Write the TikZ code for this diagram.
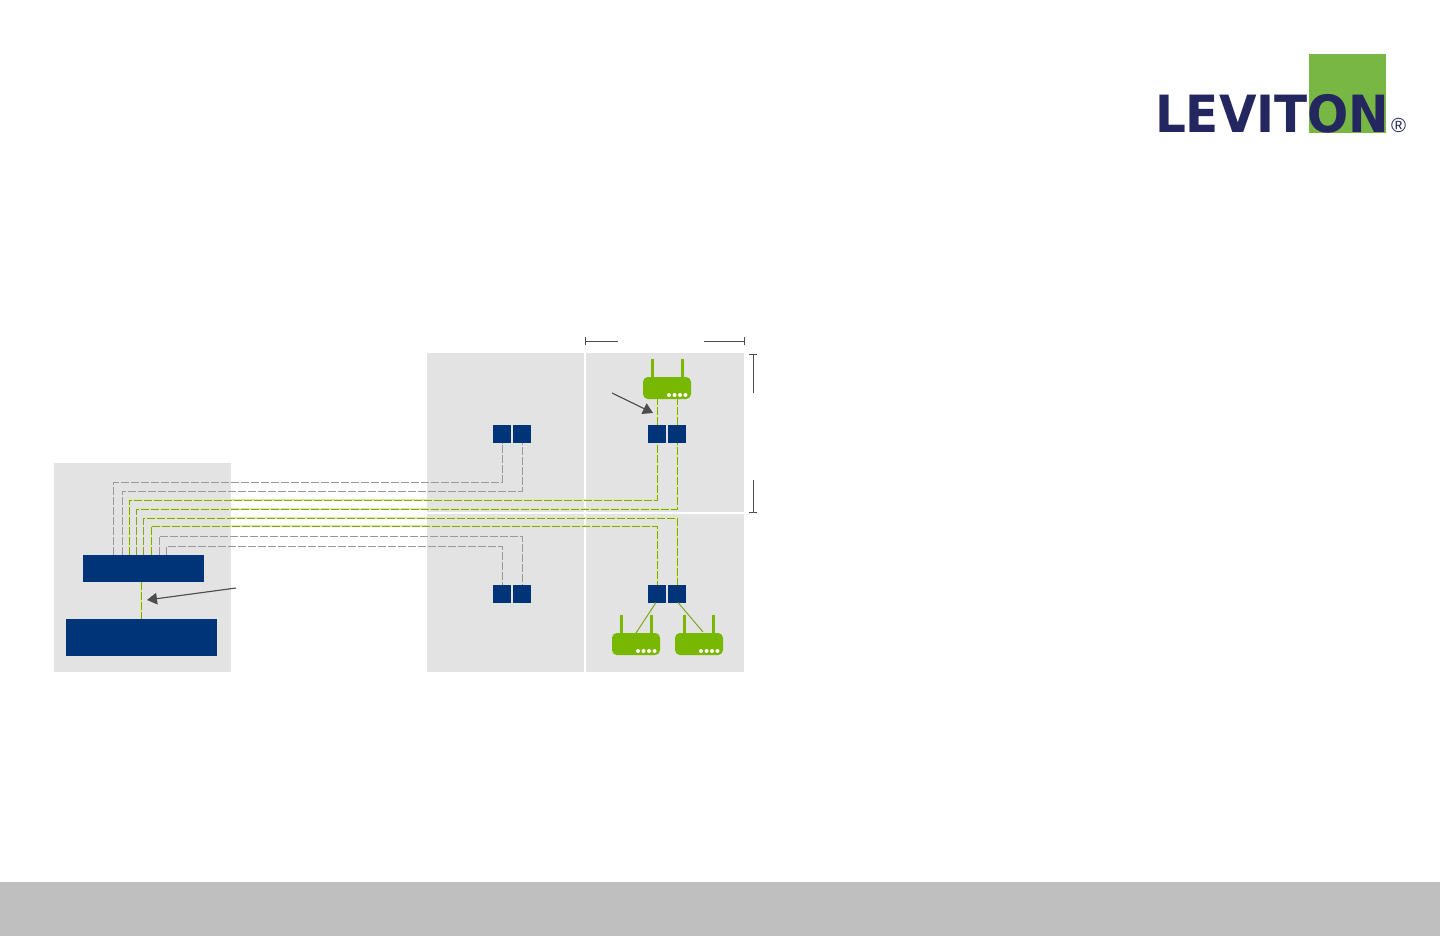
\documentclass[tikz,border=0pt]{standalone}
\usepackage{fontspec}
\usetikzlibrary{positioning,arrows.meta,calc}
\newfontfamily\logofont{DejaVu Sans Bold}
\setmainfont{Liberation Sans}
\definecolor{panelgray}{HTML}{E3E3E3}
\definecolor{footgray}{HTML}{BFBFBF}
\definecolor{portblue}{HTML}{003478}
\definecolor{wifigreen}{HTML}{78B800}
\definecolor{cablegreen}{HTML}{7FA61E}
\definecolor{cablehalo}{HTML}{DDEE9A}
\definecolor{cablegray}{HTML}{999999}
\definecolor{notegray}{HTML}{4D4D4D}
\definecolor{logogreen}{HTML}{78B744}
\definecolor{logonavy}{HTML}{23265F}

\begin{document}
\begin{tikzpicture}[
    x=0.25mm,y=-0.25mm,
    every node/.style={inner sep=0pt,outer sep=0pt},
    panel/.style={fill=panelgray,anchor=north west},
    rack/.style={fill=portblue,anchor=north west},
    port/.style={fill=portblue,minimum width=4.5mm,minimum height=4.5mm},
    router/.style={fill=wifigreen,rounded corners=1.2mm,minimum width=12mm,minimum height=5.5mm},
    antenna/.style={draw=wifigreen,line width=0.75mm},
    greycable/.style={draw=cablegray,line width=0.22mm,dash pattern=on 2mm off 0.5mm},
    greencable/.style={draw=cablegreen,line width=0.22mm,dash pattern=on 2mm off 0.5mm,
        preaction={draw=cablehalo,solid,line width=0.4mm}},
    droplink/.style={draw=cablegreen,line width=0.25mm},
    note/.style={-{Triangle[length=2.5mm,width=2.9mm]},draw=notegray,fill=notegray,line width=0.28mm},
    dimension/.style={draw=notegray,line width=0.25mm},
]
\useasboundingbox (0,0) rectangle (1440,936);
\fill[white] (0,0) rectangle (1440,936);

% Footer band
\node[fill=footgray,anchor=north west,minimum width=360mm,minimum height=13.5mm] (footer) at (0,882) {};

% Logo
\node[fill=logogreen,anchor=north west,minimum width=19.25mm,minimum height=19.75mm] (logobox) at (1309,54) {};
\node[font=\logofont\fontsize{36.5}{36.5}\selectfont,text=logonavy,xscale=0.945,anchor=base west] (logo) at (1155,133) {LEVITON};
\node[font=\fontsize{14.5}{14.5}\selectfont,text=logonavy,anchor=base west] (logoreg) at (1391,133) {®};

% Panels
\node[panel,minimum width=44.25mm,minimum height=52.25mm] (equip) at (54,463) {};
\node[panel,minimum width=39.25mm,minimum height=39.75mm] (zoneTL) at (427,353) {};
\node[panel,minimum width=39.5mm,minimum height=39.75mm] (zoneTR) at (585.5,353) {};
\node[panel,minimum width=39.25mm,minimum height=39.5mm] (zoneBL) at (427,514) {};
\node[panel,minimum width=39.5mm,minimum height=39.5mm] (zoneBR) at (585.5,514) {};

% Racks
\node[rack,minimum width=30.25mm,minimum height=6.75mm] (switch) at (83,555) {};
\node[rack,minimum width=37.75mm,minimum height=9.25mm] (core) at (66,619) {};

% Outlets
\node[port] (tlA) at (502,434) {};
\node[port] (tlB) at (522,434) {};
\node[port] (trA) at (657,434) {};
\node[port] (trB) at (677,434) {};
\node[port] (blA) at (502,593.5) {};
\node[port] (blB) at (522,593.5) {};
\node[port] (brA) at (657,593.5) {};
\node[port] (brB) at (677,593.5) {};

% Routers
\draw[antenna] (652,359) -- (652,378);
\draw[antenna] (682,359) -- (682,378);
\draw[antenna] (621,615) -- (621,634);
\draw[antenna] (651,615) -- (651,634);
\draw[antenna] (684,615) -- (684,634);
\draw[antenna] (713,615) -- (713,634);
\node[router] (apTop) at (667,388) {};
\node[router] (apLeft) at (636,644) {};
\node[router] (apRight) at (699,644) {};
\fill[white] (669,395) circle (2) (674.5,395) circle (2) (680,395) circle (2) (685.5,395) circle (2);
\fill[white] (638,651) circle (2) (643.5,651) circle (2) (649,651) circle (2) (654.5,651) circle (2);
\fill[white] (701,651) circle (2) (706.5,651) circle (2) (712,651) circle (2) (717.5,651) circle (2);

% Horizontal runs, from the switch out to the outlets
\coordinate (swA) at (113.5,555);
\coordinate (swB) at (122,555);
\coordinate (swC) at (129,555);
\coordinate (swD) at (136.5,555);
\coordinate (swE) at (143.5,555);
\coordinate (swF) at (151,555);
\coordinate (swG) at (159,555);
\coordinate (swH) at (166.5,555);
\draw[greycable] (swA) -- ++(0,-72.5) -| (tlA.south);
\draw[greycable] (swB) -- ++(0,-64) -| (tlB.south);
\draw[greencable] (swC) -- ++(0,-55) -| (trA.south);
\draw[greencable] (swD) -- ++(0,-46) -| (trB.south);
\draw[greencable] (swE) -- ++(0,-37) -| (brB.north);
\draw[greencable] (swF) -- ++(0,-29) -| (brA.north);
\draw[greycable] (swG) -- ++(0,-19) -| (blB.north);
\draw[greycable] (swH) -- ++(0,-9) -| (blA.north);

% Short links
\coordinate (swDown) at (141,582);
\coordinate (coreUp) at (141,619);
\draw[greencable] (swDown) -- (coreUp);
\draw[greencable] (trA.north) -- (trA.north |- apTop.south);
\draw[greencable] (trB.north) -- (trB.north |- apTop.south);
\coordinate (apLeftTop) at (636,633);
\coordinate (apRightTop) at (703,632);
\draw[droplink] (brA.south) ++(-1,0) -- (apLeftTop);
\draw[droplink] (brB.south) ++(1,0) -- (apRightTop);

% Pointers
\coordinate (noteCore) at (236,588);
\coordinate (noteCoreEnd) at (147,600);
\coordinate (noteAp) at (612,393);
\coordinate (noteApEnd) at (653,413);
\draw[note] (noteCore) -- (noteCoreEnd);
\draw[note] (noteAp) -- (noteApEnd);

% Dimension marks
\draw[dimension] (585,337) -- (585,345);
\draw[dimension] (585,341) -- (618,341);
\draw[dimension] (704,341) -- (744,341);
\draw[dimension] (744,337) -- (744,345);
\draw[dimension] (749,354) -- (757,354);
\draw[dimension] (753,354) -- (753,393);
\draw[dimension] (753,480) -- (753,512);
\draw[dimension] (749,512) -- (757,512);
\end{tikzpicture}
\end{document}
